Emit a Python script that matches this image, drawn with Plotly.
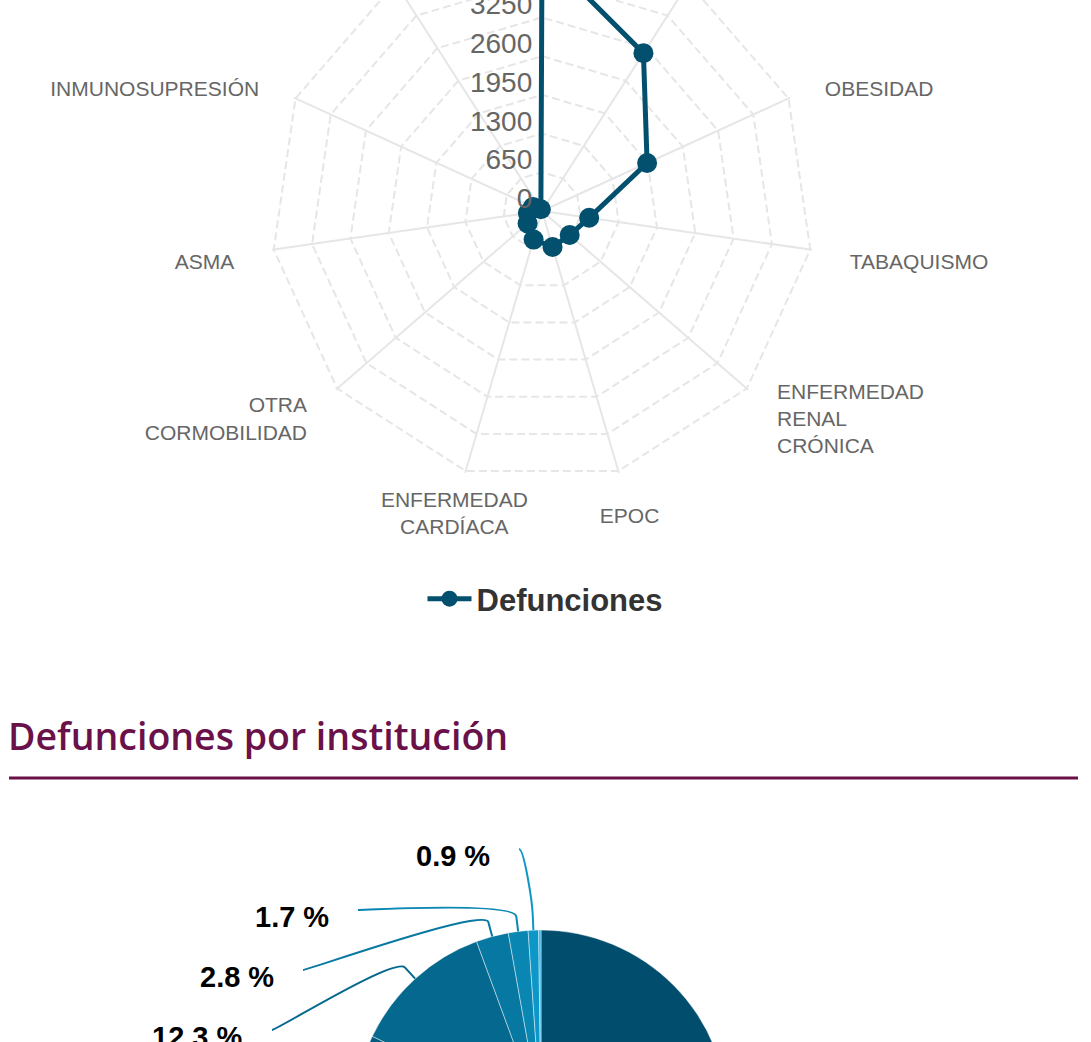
import math
import plotly.graph_objects as go

# ------------------------------------------------------------------ data
comorbilidades = ["HIPERTENSIÓN", "DIABETES", "OBESIDAD", "TABAQUISMO",
                  "ENFERMEDAD<br>RENAL<br>CRÓNICA", "EPOC", "ENFERMEDAD<br>CARDÍACA",
                  "OTRA<br>CORMOBILIDAD", "ASMA", "INMUNOSUPRESIÓN", "EMBARAZO"]
defunciones = [4350, 3150, 1940, 800, 615, 630, 500, 320, 240, 165, 35]

radial_ticks = [0, 650, 1300, 1950, 2600, 3250, 3900, 4550]
radial_tick_labels = ["0", "650", "1300", "1950", "2600", "3250", "3900", "4550"]

instituciones = ["IMSS", "SSA", "ISSSTE", "PEMEX", "SEDENA", "PRIVADA", "SEMAR"]
pct_institucion = [50.3, 31.8, 12.3, 2.8, 1.7, 0.9, 0.2]

# ------------------------------------------------------------------ styles / layout
W, VIEW_H, SHIFT, H = 1091, 1042, 110, 1450
FONT = "Liberation Sans, Arial, Helvetica, sans-serif"
LINE_COLOR = "#034f6e"
TITLE_COLOR = "#6a1149"
slice_colors = ["#004d6e", "#035b7e", "#05688f", "#0778a1", "#0986b2", "#0c97c8", "#36b3e2"]

RADIAL_MAX = 4550                           # outer grid ring value
RADIAL_RANGE_MAX = 4580                     # a hair beyond, so the outer ring is drawn
POLAR_C, RING_R = (542, 211), 271           # screen px (centre, outer ring radius)
POLAR_R = RING_R * RADIAL_RANGE_MAX / RADIAL_MAX
TICKLABEL_OFFSET = (-2, 4)                  # px offset of radial tick labels
LABEL_R = 311                               # radius of category labels (px)
LABEL_OFFSET_SINGLE = -2                    # px vertical offset, one-line labels
LABEL_OFFSET_MULTI = 6                      # px vertical offset, multi-line labels
PIE_C, PIE_R = (541, 1117), 187             # screen px
# label anchor (screen px) for outside pie labels, keyed by slice index
pie_label_anchor = {5: (519, 849), 4: (358, 910), 3: (303, 970), 2: (272, 1030)}
# per-category label placement
label_positions = ["middle center", "bottom right", "bottom right", "bottom right",
                   "middle right", "bottom center", "middle center",
                   "middle left", "bottom left", "bottom left", "bottom left"]


def px(x):
    return x / W


def py(y):
    return 1 - (y + SHIFT) / H


def square_domain(cx, cy, r):
    return dict(x=[px(cx - r), px(cx + r)], y=[py(cy + r), py(cy - r)])


fig = go.Figure()

# radar series (closed)
fig.add_trace(go.Scatterpolar(
    r=defunciones + [defunciones[0]],
    theta=comorbilidades + [comorbilidades[0]],
    mode="lines+markers",
    name="Defunciones",
    line=dict(color=LINE_COLOR, width=5),
    marker=dict(color=LINE_COLOR, size=20),
    subplot="polar",
))

# radial tick labels, drawn through an identical (invisible, circular) radial scale
fig.add_trace(go.Scatterpolar(
    r=radial_ticks,
    theta=[comorbilidades[0]] * len(radial_ticks),
    mode="text",
    text=[t + "\u00a0" for t in radial_tick_labels],
    textposition="top left",
    textfont=dict(family=FONT, size=28, color="#666666"),
    showlegend=False,
    hoverinfo="skip",
    cliponaxis=False,
    subplot="polar3",
))

# category labels on outer (invisible) polar frames
single = [i for i, c in enumerate(comorbilidades) if "<br>" not in c]
multi = [i for i, c in enumerate(comorbilidades) if "<br>" in c]
for idx, sub in ((single, "polar2"), (multi, "polar4")):
    fig.add_trace(go.Scatterpolar(
        r=[1] * len(idx),
        theta=[comorbilidades[i] for i in idx],
        mode="text",
        text=[comorbilidades[i] for i in idx],
        textposition=[label_positions[i] for i in idx],
        textfont=dict(family=FONT, size=21, color="#666666"),
        showlegend=False,
        hoverinfo="skip",
        cliponaxis=False,
        subplot=sub,
    ))

# pie
fig.add_trace(go.Pie(
    labels=instituciones,
    values=pct_institucion,
    sort=False,
    direction="clockwise",
    rotation=0,
    textinfo="none",
    marker=dict(colors=slice_colors, line=dict(color="rgba(255,255,255,0.45)", width=1)),
    domain=square_domain(PIE_C[0], PIE_C[1], PIE_R),
    showlegend=False,
))

shapes = []
annotations = []

# pie outside labels with connectors (angles derived from the data)
total = sum(pct_institucion)
cum = 0.0
for i, v in enumerate(pct_institucion):
    mid = (cum + v / 2) / total * 2 * math.pi
    cum += v
    if i == len(pct_institucion) - 1:
        continue
    sx, sy = math.sin(mid), -math.cos(mid)
    tx, ty = PIE_C[0] + PIE_R * sx, PIE_C[1] + PIE_R * sy
    bx, by = PIE_C[0] + (PIE_R + 15) * sx, PIE_C[1] + (PIE_R + 15) * sy
    if i in pie_label_anchor:
        lx, ly = pie_label_anchor[i]
    else:
        lx = PIE_C[0] + (PIE_R + 80) * sx
        ly = PIE_C[1] + (PIE_R + 80) * sy
    left = lx < PIE_C[0]
    side = -1 if left else 1
    path = (f"M {px(lx)},{py(ly)} C {px(lx - 5 * side)},{py(ly)} "
            f"{px(2 * bx - tx)},{py(2 * by - ty)} {px(bx)},{py(by)} L {px(tx)},{py(ty)}")
    shapes.append(dict(type="path", path=path, xref="paper", yref="paper",
                       line=dict(color=slice_colors[i], width=2)))
    annotations.append(dict(
        text=f"{v} %", x=px(lx - 27) if left else px(lx + 27),
        y=py(ly + 7), xref="paper", yref="paper",
        xanchor="right" if left else "left", yanchor="middle", showarrow=False,
        font=dict(family=FONT, size=29, color="#000000", weight="bold"),
    ))

# section title + underline
annotations.append(dict(
    text="Defunciones por institución", x=px(6), y=py(735), xref="paper", yref="paper",
    xanchor="left", yanchor="middle", showarrow=False,
    font=dict(family="Open Sans, sans-serif", size=37.5, color=TITLE_COLOR, weight=600),
))
shapes.append(dict(type="line", xref="paper", yref="paper",
                   x0=px(9), x1=px(1078), y0=py(778), y1=py(778),
                   line=dict(color=TITLE_COLOR, width=3)))

hidden_angular = dict(direction="clockwise", rotation=90, showline=False, showgrid=False,
                      showticklabels=False, ticks="", categoryarray=comorbilidades,
                      categoryorder="array")
hidden_unit_radial = dict(range=[0, 1.0001], showticklabels=False, ticks="",
                          showline=False, showgrid=False)

fig.update_layout(
    width=W, height=H,
    margin=dict(l=0, r=0, t=0, b=0),
    paper_bgcolor="white",
    plot_bgcolor="white",
    font=dict(family=FONT),
    polar=dict(
        domain=square_domain(POLAR_C[0], POLAR_C[1], POLAR_R),
        gridshape="linear",
        bgcolor="white",
        radialaxis=dict(range=[0, RADIAL_RANGE_MAX], tickvals=radial_ticks,
                        showticklabels=False, ticks="", showline=False,
                        gridcolor="#e6e6e6", gridwidth=2, griddash="8px,4px"),
        angularaxis=dict(direction="clockwise", rotation=90, showline=False,
                         gridcolor="#e6e6e6", gridwidth=2, ticks="",
                         showticklabels=False,
                         categoryarray=comorbilidades, categoryorder="array"),
    ),
    polar2=dict(
        domain=square_domain(POLAR_C[0], POLAR_C[1] + LABEL_OFFSET_SINGLE, LABEL_R),
        bgcolor="rgba(0,0,0,0)",
        radialaxis=hidden_unit_radial,
        angularaxis=hidden_angular,
    ),
    polar4=dict(
        domain=square_domain(POLAR_C[0], POLAR_C[1] + LABEL_OFFSET_MULTI, LABEL_R),
        bgcolor="rgba(0,0,0,0)",
        radialaxis=hidden_unit_radial,
        angularaxis=hidden_angular,
    ),
    polar3=dict(
        domain=square_domain(POLAR_C[0] + TICKLABEL_OFFSET[0],
                             POLAR_C[1] + TICKLABEL_OFFSET[1], POLAR_R),
        bgcolor="rgba(0,0,0,0)",
        radialaxis=dict(range=[0, RADIAL_RANGE_MAX], showticklabels=False, ticks="",
                        showline=False, showgrid=False),
        angularaxis=hidden_angular,
    ),
    legend=dict(orientation="h", x=0.5, xanchor="center", y=py(599), yanchor="middle",
                bgcolor="rgba(0,0,0,0)", itemwidth=44,
                font=dict(family=FONT, size=31, color="#333333", weight="bold")),
    shapes=shapes,
    annotations=annotations,
)

post = ("document.documentElement.style.overflow='hidden';"
        "document.body.style.overflow='hidden';"
        "document.body.style.margin='0';"
        "var d=document.getElementById('{plot_id}');"
        f"d.style.marginTop='-{SHIFT}px';")
fig.write_html("out.html", post_script=post, config={"displayModeBar": False})
